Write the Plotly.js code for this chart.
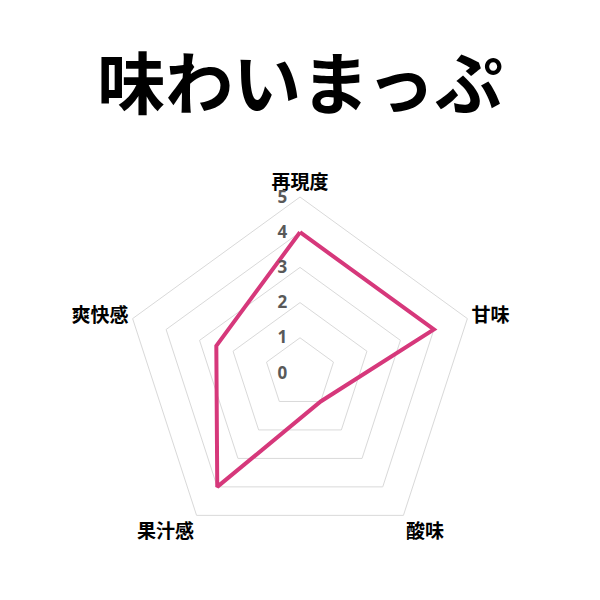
<!DOCTYPE html>
<html>
<head>
<meta charset="utf-8">
<script src="https://cdn.plot.ly/plotly-3.0.1.min.js"></script>
<style>
  html, body { margin: 0; padding: 0; background: #fff; }
  #chart { width: 600px; height: 600px; }
</style>
</head>
<body>
<div id="chart"></div>
<script>
// 味わいの評価 (0〜5)
var categories = ["再現度", "甘味", "酸味", "果汁感", "爽快感"];
var scores = [4, 4, 1, 4, 2.5];
var radialTicks = [0, 1, 2, 3, 4, 5];

// close the outline by repeating the first point
var r = scores.concat([scores[0]]);
var theta = categories.concat([categories[0]]);

// invisible trailing digit keeps the tick text a little away from the axis
var pad = '<span style="color:rgba(0,0,0,0)">0</span>';

var data = [{
    type: 'scatterpolar',
    r: r,
    theta: theta,
    mode: 'lines',
    line: { color: '#d6387b', width: 4 },
    hoverinfo: 'skip'
}];

var layout = {
    width: 600,
    height: 600,
    margin: { l: 0, r: 0, t: 0, b: 0 },
    paper_bgcolor: '#fff',
    showlegend: false,
    title: {
        text: '<b>味わいまっぷ</b>',
        font: { family: 'Noto Sans CJK JP', size: 68, color: '#000' },
        x: 0.5,
        xanchor: 'center',
        y: 0.858,
        yanchor: 'middle'
    },
    polar: {
        domain: { x: [0.2067, 0.7933], y: [0.085, 0.6717] },
        gridshape: 'linear',
        bgcolor: 'rgba(0,0,0,0)',
        radialaxis: {
            range: [0, 5],
            tickvals: radialTicks,
            ticktext: radialTicks.map(function (v) { return '<b>' + v + '</b>' + pad; }),
            angle: 90,
            tickangle: 90,
            side: 'counterclockwise',
            showline: false,
            ticks: '',
            gridcolor: '#d9d9d9',
            gridwidth: 1,
            tickfont: { family: 'Open Sans', size: 17, color: '#595959' }
        },
        angularaxis: {
            rotation: 90,
            direction: 'clockwise',
            showgrid: false,
            showline: true,
            linecolor: '#d9d9d9',
            linewidth: 1,
            ticks: '',
            ticktext: categories.map(function (c) { return '<b>' + c + '</b>'; }),
            tickvals: categories,
            tickfont: { family: 'Noto Sans CJK JP', size: 19, color: '#000' }
        }
    }
};

Plotly.newPlot('chart', data, layout, { displayModeBar: false, staticPlot: true });
</script>
</body>
</html>
